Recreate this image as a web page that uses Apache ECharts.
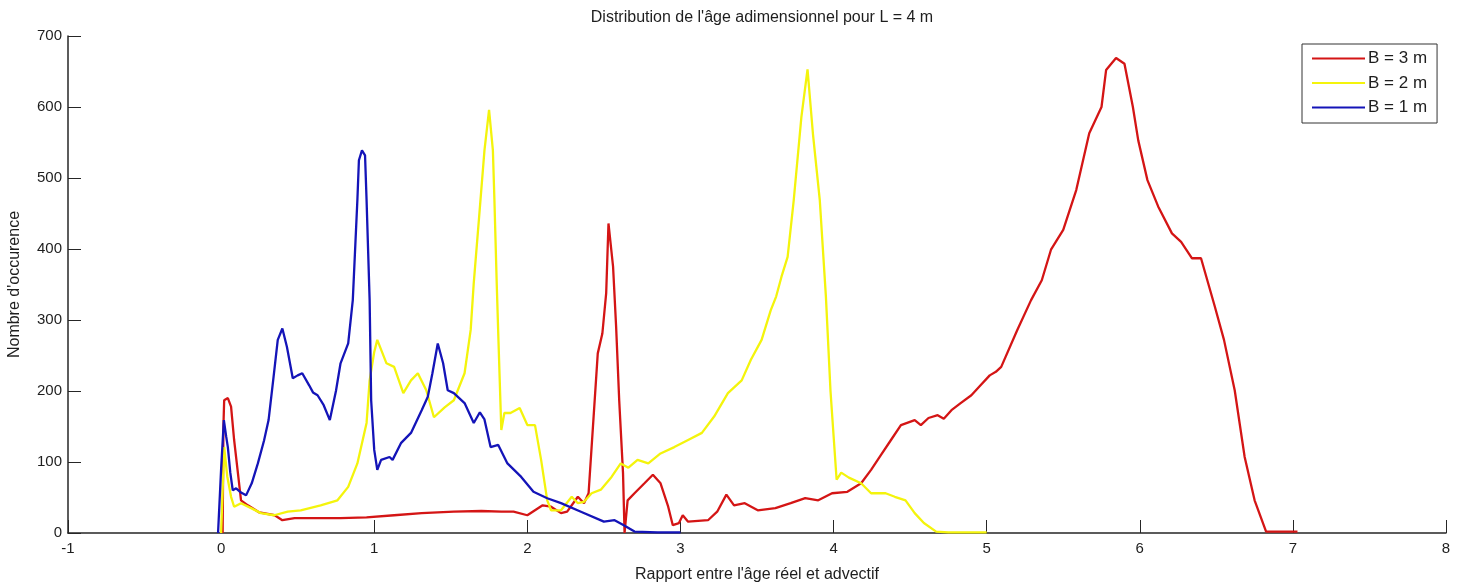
<!DOCTYPE html>
<html>
<head>
<meta charset="utf-8">
<title>Distribution de l'âge adimensionnel</title>
<script src="https://cdn.jsdelivr.net/npm/echarts@6/dist/echarts.min.js"></script>
<style>
  html, body { margin: 0; padding: 0; background: #fff; }
  #chart { width: 1462px; height: 583px; }
</style>
</head>
<body>
<div id="chart"></div>
<script>
// Histogramme de l'âge adimensionnel (âge réel / âge advectif), L = 4 m
const titleText = "Distribution de l'âge adimensionnel pour L = 4 m";
const xAxisName = "Rapport entre l'âge réel et advectif";
const yAxisName = "Nombre d'occurence";
const seriesNames = ['B = 3 m', 'B = 2 m', 'B = 1 m'];

// [rapport, nombre d'occurences]
const dataB3 = [
  [0.01, 0], [0.015, 150], [0.02, 187], [0.044, 190], [0.065, 178], [0.085, 131],
  [0.11, 84], [0.13, 46], [0.175, 39], [0.25, 29], [0.35, 25], [0.40, 18],
  [0.48, 21], [0.61, 21], [0.78, 21], [0.95, 22], [1.13, 25], [1.31, 28],
  [1.52, 30], [1.70, 31], [1.83, 30], [1.91, 30], [2.0, 25], [2.10, 39],
  [2.155, 37], [2.22, 28], [2.26, 30], [2.33, 51], [2.37, 42], [2.40, 56],
  [2.46, 253], [2.49, 281], [2.515, 338], [2.53, 436], [2.56, 375], [2.58, 290],
  [2.60, 187], [2.625, 84], [2.635, 0], [2.655, 46], [2.70, 56], [2.765, 70],
  [2.82, 82], [2.87, 70], [2.92, 37], [2.95, 11], [2.99, 14], [3.015, 25],
  [3.05, 16], [3.18, 18], [3.24, 30], [3.30, 54], [3.35, 39], [3.42, 42],
  [3.505, 32], [3.62, 35], [3.72, 42], [3.815, 49], [3.90, 46], [3.99, 56],
  [4.09, 58], [4.18, 70], [4.245, 89], [4.31, 110], [4.375, 131], [4.44, 152],
  [4.53, 159], [4.57, 152], [4.62, 162], [4.68, 166], [4.72, 161], [4.77, 173],
  [4.83, 183], [4.90, 194], [4.96, 208], [5.02, 222], [5.06, 227], [5.095, 234],
  [5.20, 286], [5.29, 328], [5.36, 356], [5.42, 399], [5.50, 427], [5.585, 483],
  [5.67, 563], [5.75, 600], [5.78, 652], [5.845, 669], [5.90, 661], [5.955, 600],
  [5.99, 553], [6.05, 497], [6.12, 460], [6.21, 422], [6.27, 410], [6.34, 387],
  [6.40, 387], [6.49, 319], [6.55, 272], [6.62, 201], [6.685, 107], [6.75, 46],
  [6.825, 2], [7.03, 2]
];

const dataB2 = [
  [0.0, 0], [0.01, 60], [0.02, 121], [0.04, 80], [0.065, 51], [0.085, 37],
  [0.13, 42], [0.196, 35], [0.26, 28], [0.346, 25], [0.435, 30], [0.52, 32],
  [0.65, 39], [0.76, 46], [0.83, 65], [0.89, 98], [0.95, 155], [0.97, 215],
  [1.0, 255], [1.02, 272], [1.08, 239], [1.13, 234], [1.19, 197], [1.24, 215],
  [1.285, 225], [1.34, 201], [1.39, 163], [1.46, 177], [1.52, 187], [1.59, 225],
  [1.63, 286], [1.65, 352], [1.685, 445], [1.72, 539], [1.75, 596], [1.775, 539],
  [1.785, 469], [1.80, 352], [1.81, 281], [1.83, 145], [1.85, 169], [1.89, 169],
  [1.95, 176], [2.0, 152], [2.05, 152], [2.09, 103], [2.13, 46], [2.155, 32],
  [2.22, 32], [2.29, 51], [2.33, 42], [2.37, 44], [2.42, 56], [2.48, 61],
  [2.55, 79], [2.61, 98], [2.66, 92], [2.72, 103], [2.79, 98], [2.87, 112],
  [2.96, 121], [3.05, 131], [3.14, 141], [3.22, 164], [3.31, 197], [3.40, 215],
  [3.46, 244], [3.53, 272], [3.59, 314], [3.625, 333], [3.66, 361], [3.70, 389],
  [3.74, 469], [3.79, 586], [3.83, 653], [3.865, 563], [3.91, 469], [3.95, 333],
  [3.98, 200], [4.02, 75], [4.05, 85], [4.10, 78], [4.18, 70], [4.245, 56],
  [4.34, 56], [4.40, 51], [4.47, 46], [4.53, 28], [4.59, 14], [4.67, 2],
  [4.75, 1], [5.0, 1]
];

const dataB1 = [
  [-0.02, 0], [0.0, 90], [0.018, 159], [0.033, 136], [0.044, 121], [0.06, 85],
  [0.076, 60], [0.098, 63], [0.13, 57], [0.163, 53], [0.2, 70], [0.24, 98],
  [0.28, 130], [0.31, 159], [0.34, 215], [0.37, 272], [0.40, 288], [0.43, 262],
  [0.468, 218], [0.50, 222], [0.53, 225], [0.575, 208], [0.60, 198], [0.63, 194],
  [0.67, 180], [0.71, 159], [0.75, 200], [0.78, 239], [0.83, 267], [0.86, 328],
  [0.89, 469], [0.90, 525], [0.92, 539], [0.94, 532], [0.95, 469], [0.97, 328],
  [0.98, 187], [1.0, 117], [1.02, 89], [1.045, 103], [1.10, 107], [1.12, 103],
  [1.176, 127], [1.24, 141], [1.31, 173], [1.35, 192], [1.38, 225], [1.415, 267],
  [1.45, 239], [1.48, 201], [1.52, 197], [1.59, 183], [1.65, 155], [1.69, 170],
  [1.72, 160], [1.76, 121], [1.81, 124], [1.87, 98], [1.96, 79], [2.04, 58],
  [2.13, 49], [2.22, 42], [2.35, 30], [2.50, 16], [2.57, 18], [2.63, 11],
  [2.70, 2], [2.85, 1], [3.0, 1]
];

const xTicks = { min: -1, max: 8, interval: 1 };
const yTicks = { min: 0, max: 700, interval: 100 };
const lineColors = ['#d41515', '#f4f40c', '#1414b8'];

const font = "'Liberation Sans', Arial, sans-serif";
const axisColor = '#262626';
const textColor = '#1e1e1e';

const chart = echarts.init(document.getElementById('chart'), null, { renderer: 'canvas' });

const seriesData = [dataB3, dataB2, dataB1];

chart.setOption({
  animation: false,
  backgroundColor: '#ffffff',
  title: {
    text: titleText,
    left: 757,
    textAlign: 'center',
    top: 5,
    textStyle: { fontFamily: font, fontSize: 16, fontWeight: 'normal', color: textColor }
  },
  grid: { left: 68, right: 16, top: 36, bottom: 50, containLabel: false, outerBoundsMode: 'none' },
  legend: {
    left: 1302,
    top: 44,
    orient: 'vertical',
    icon: 'rect',
    itemWidth: 53,
    itemHeight: 2,
    itemGap: 7.5,
    padding: [6, 10, 7, 10],
    borderColor: '#333',
    borderWidth: 1,
    backgroundColor: '#fff',
    textStyle: { fontFamily: font, fontSize: 17, color: textColor, padding: [0, 0, 0, -2] },
    data: seriesNames
  },
  xAxis: {
    type: 'value',
    min: xTicks.min,
    max: xTicks.max,
    interval: xTicks.interval,
    name: xAxisName,
    nameLocation: 'middle',
    nameGap: 34,
    nameTextStyle: { fontFamily: font, fontSize: 16, color: textColor },
    axisLine: { show: true, onZero: false, lineStyle: { color: axisColor, width: 1.5 } },
    axisTick: { show: true, inside: true, length: 13, lineStyle: { color: axisColor, width: 1 } },
    axisLabel: { fontFamily: font, fontSize: 15, color: textColor, margin: 8 },
    splitLine: { show: false }
  },
  yAxis: {
    type: 'value',
    min: yTicks.min,
    max: yTicks.max,
    interval: yTicks.interval,
    name: yAxisName,
    nameLocation: 'middle',
    nameGap: 45,
    nameTextStyle: { fontFamily: font, fontSize: 16, color: textColor },
    axisLine: { show: true, onZero: false, lineStyle: { color: axisColor, width: 1.5 } },
    axisTick: { show: true, inside: true, length: 13, lineStyle: { color: axisColor, width: 1 } },
    axisLabel: { fontFamily: font, fontSize: 15, color: textColor, margin: 6 },
    splitLine: { show: false }
  },
  series: seriesNames.map((name, i) => ({
    name: name,
    type: 'line',
    data: seriesData[i],
    showSymbol: false,
    symbol: 'none',
    color: lineColors[i],
    lineStyle: { color: lineColors[i], width: 2.3 },
    z: 2 + i
  }))
});
</script>
</body>
</html>
